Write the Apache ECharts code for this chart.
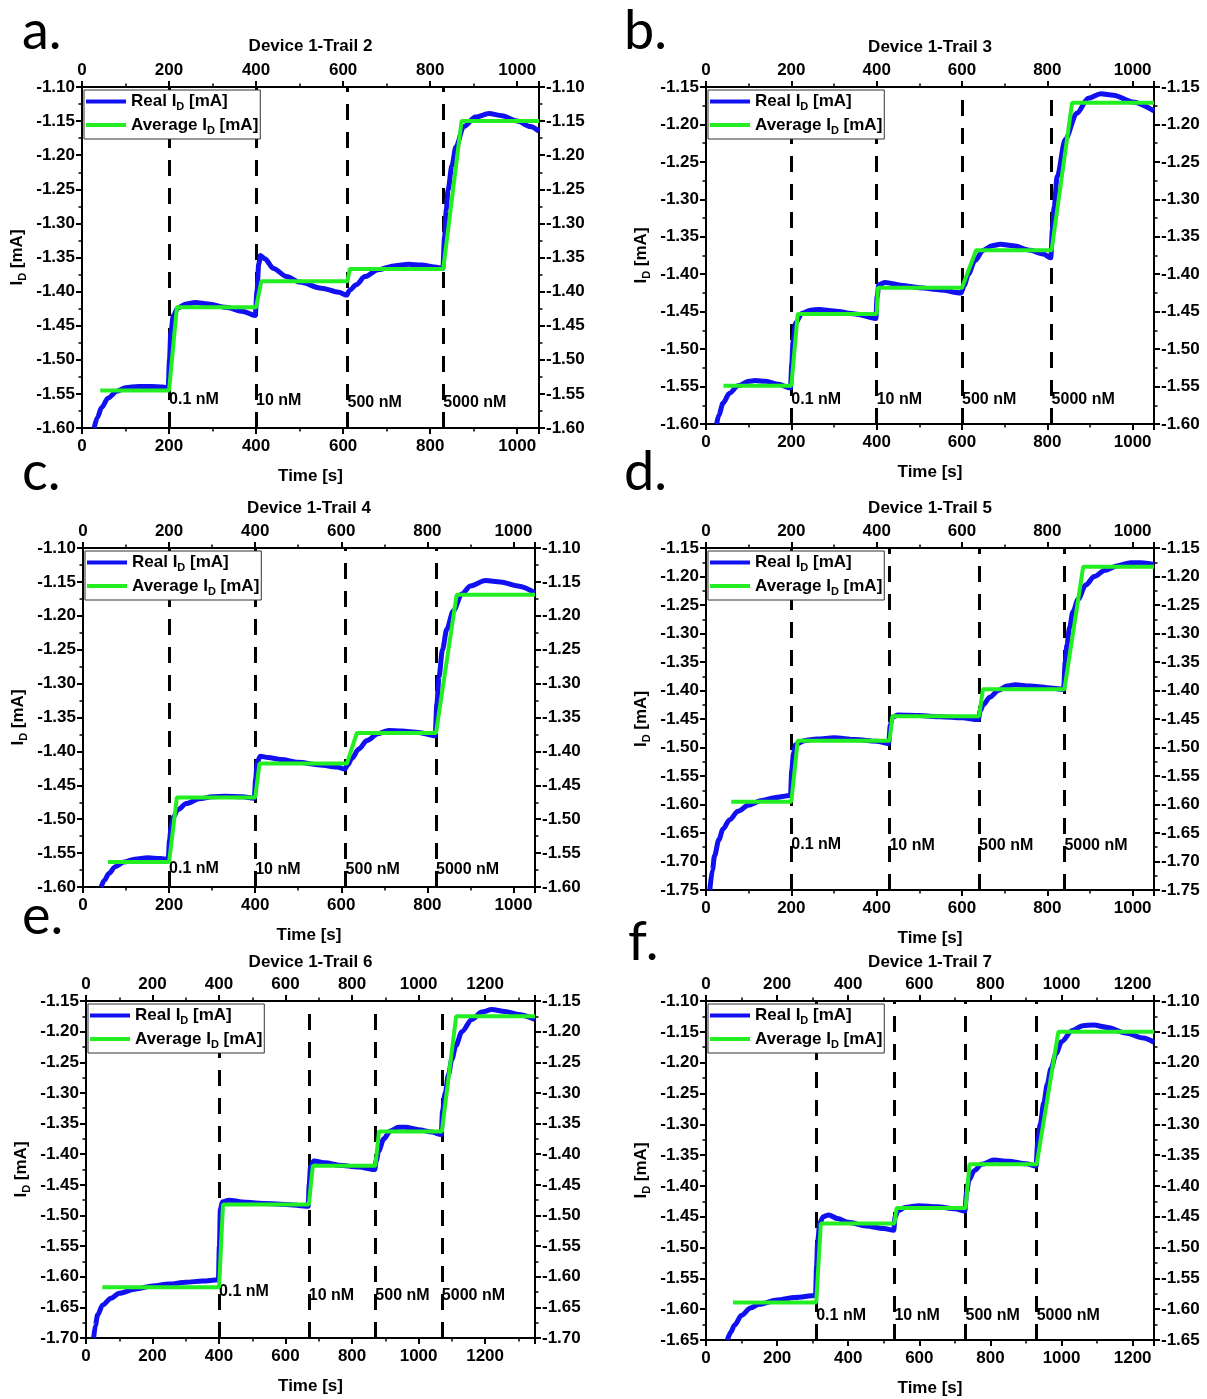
<!DOCTYPE html>
<html>
<head>
<meta charset="utf-8">
<script src="https://cdn.jsdelivr.net/npm/echarts@6/dist/echarts.min.js"></script>
<style>
html,body{margin:0;padding:0;background:#fff;}
#c{width:1207px;height:1399px;}
</style>
</head>
<body>
<div id="c"></div>
<script>
// ---------- DATA ----------
const concLabels = ['0.1 nM', '10 nM', '500 nM', '5000 nM'];
const panelTitles = ['Device 1-Trail 2', 'Device 1-Trail 3', 'Device 1-Trail 4', 'Device 1-Trail 5', 'Device 1-Trail 6', 'Device 1-Trail 7'];
const panelLetters = ['a.', 'b.', 'c.', 'd.', 'e.', 'f.'];

const injA = [200, 400, 610, 830];
const injB = [200, 400, 600, 810];
const injC = [200, 400, 610, 820];
const injD = [200, 430, 640, 840];
const injE = [400, 670, 870, 1070];
const injF = [310, 530, 730, 930];

const labYA = [-1.559, -1.560, -1.563, -1.563];
const labYB = [-1.567, -1.568, -1.568, -1.568];
const labYC = [-1.573, -1.574, -1.574, -1.574];
const labYD = [-1.670, -1.672, -1.672, -1.672];
const labYE = [-1.625, -1.630, -1.630, -1.630];
const labYF = [-1.610, -1.610, -1.610, -1.610];

const realA = [[28,-1.600],[35,-1.585],[45,-1.570],[60,-1.556],[80,-1.546],[100,-1.541],[130,-1.539],[160,-1.539],[185,-1.540],[198,-1.541],
[201,-1.50],[204,-1.46],[210,-1.435],[220,-1.424],[240,-1.418],[260,-1.416],[290,-1.418],[330,-1.423],[370,-1.429],[398,-1.435],
[402,-1.40],[406,-1.36],[410,-1.347],[420,-1.352],[440,-1.366],[470,-1.378],[500,-1.386],[550,-1.395],[590,-1.401],[608,-1.405],
[615,-1.398],[630,-1.390],[650,-1.378],[680,-1.368],[720,-1.362],[750,-1.360],[780,-1.361],[810,-1.364],[829,-1.366],
[833,-1.32],[837,-1.28],[841,-1.251],[850,-1.215],[859,-1.188],[877,-1.158],[904,-1.144],[935,-1.139],[965,-1.142],[1000,-1.150],[1030,-1.158],[1050,-1.165]];
const avgA = [[42,-1.545],[200,-1.545],[218,-1.423],[400,-1.423],[412,-1.385],[610,-1.385],[615,-1.367],[830,-1.367],[872,-1.150],[1050,-1.150]];

const realB = [[25,-1.600],[30,-1.588],[40,-1.572],[55,-1.559],[75,-1.549],[100,-1.543],[115,-1.542],[140,-1.543],[170,-1.547],[198,-1.552],
[201,-1.52],[204,-1.49],[210,-1.465],[225,-1.452],[245,-1.448],[265,-1.447],[300,-1.449],[350,-1.453],[398,-1.459],
[401,-1.43],[405,-1.414],[420,-1.411],[460,-1.415],[500,-1.418],[550,-1.421],[598,-1.425],
[605,-1.415],[615,-1.400],[630,-1.382],[650,-1.368],[670,-1.362],[690,-1.360],[720,-1.362],[760,-1.368],[790,-1.373],[808,-1.378],
[812,-1.34],[816,-1.31],[823,-1.27],[842,-1.22],[869,-1.185],[896,-1.165],[925,-1.159],[955,-1.161],[1000,-1.170],[1050,-1.182]];
const avgB = [[41,-1.549],[200,-1.549],[215,-1.453],[400,-1.453],[403,-1.418],[600,-1.418],[633,-1.368],[810,-1.368],[858,-1.171],[1050,-1.171]];

const realC = [[42,-1.600],[50,-1.590],[60,-1.580],[75,-1.570],[95,-1.563],[120,-1.559],[150,-1.557],[180,-1.558],[198,-1.559],
[201,-1.53],[205,-1.51],[210,-1.497],[220,-1.486],[240,-1.477],[270,-1.470],[300,-1.467],[330,-1.466],[370,-1.467],[398,-1.469],
[401,-1.44],[405,-1.415],[412,-1.407],[430,-1.409],[460,-1.412],[500,-1.416],[550,-1.420],[590,-1.423],[608,-1.426],
[615,-1.420],[625,-1.410],[640,-1.397],[660,-1.384],[685,-1.374],[710,-1.369],[740,-1.370],[780,-1.372],[818,-1.377],
[822,-1.33],[827,-1.29],[835,-1.25],[845,-1.22],[860,-1.193],[880,-1.168],[900,-1.156],[935,-1.148],[970,-1.150],[1010,-1.156],[1050,-1.166]];
const avgC = [[58,-1.563],[200,-1.563],[218,-1.468],[400,-1.468],[410,-1.418],[613,-1.418],[636,-1.373],[820,-1.373],[868,-1.169],[1050,-1.169]];

const realD = [[9,-1.750],[15,-1.715],[20,-1.690],[30,-1.662],[40,-1.643],[55,-1.627],[75,-1.612],[100,-1.601],[130,-1.593],[160,-1.588],[198,-1.584],
[201,-1.54],[205,-1.51],[210,-1.495],[230,-1.488],[260,-1.485],[300,-1.483],[350,-1.486],[400,-1.489],[428,-1.493],
[432,-1.46],[437,-1.447],[450,-1.443],[500,-1.444],[550,-1.446],[600,-1.448],[638,-1.451],
[643,-1.435],[650,-1.425],[665,-1.412],[685,-1.400],[705,-1.392],[725,-1.390],[760,-1.392],[800,-1.395],[838,-1.398],
[842,-1.35],[846,-1.32],[852,-1.29],[860,-1.262],[872,-1.240],[890,-1.215],[910,-1.200],[935,-1.189],[965,-1.181],[995,-1.176],[1020,-1.176],[1050,-1.179]];
const avgD = [[59,-1.595],[200,-1.595],[215,-1.488],[430,-1.488],[437,-1.445],[640,-1.445],[649,-1.398],[840,-1.398],[884,-1.183],[1050,-1.183]];

const realE = [[23,-1.700],[28,-1.680],[35,-1.662],[50,-1.646],[75,-1.635],[100,-1.627],[150,-1.620],[200,-1.615],[250,-1.612],[300,-1.609],[350,-1.607],[398,-1.605],
[401,-1.55],[404,-1.49],[410,-1.478],[430,-1.475],[470,-1.478],[520,-1.480],[600,-1.482],[668,-1.485],
[671,-1.45],[675,-1.42],[685,-1.411],[720,-1.414],[760,-1.418],[820,-1.421],[868,-1.425],
[873,-1.41],[880,-1.395],[895,-1.375],[915,-1.362],[940,-1.356],[960,-1.356],[1000,-1.360],[1040,-1.364],[1068,-1.368],
[1072,-1.33],[1080,-1.30],[1090,-1.27],[1100,-1.245],[1112,-1.223],[1130,-1.200],[1160,-1.180],[1190,-1.168],[1220,-1.164],[1260,-1.167],[1300,-1.172],[1350,-1.180]];
const avgE = [[49,-1.617],[400,-1.617],[412,-1.482],[670,-1.482],[682,-1.419],[870,-1.419],[881,-1.363],[1070,-1.363],[1113,-1.175],[1350,-1.175]];

const realF = [[60,-1.650],[70,-1.637],[80,-1.626],[100,-1.610],[125,-1.598],[150,-1.592],[200,-1.585],[250,-1.581],[308,-1.578],
[311,-1.53],[314,-1.49],[320,-1.460],[330,-1.450],[345,-1.447],[370,-1.453],[400,-1.459],[450,-1.465],[500,-1.469],[528,-1.472],
[532,-1.45],[540,-1.440],[560,-1.435],[600,-1.432],[650,-1.434],[700,-1.437],[728,-1.441],
[733,-1.41],[740,-1.390],[755,-1.375],[775,-1.365],[810,-1.358],[850,-1.360],[900,-1.364],[928,-1.368],
[933,-1.33],[940,-1.30],[950,-1.265],[960,-1.235],[970,-1.210],[985,-1.185],[1000,-1.166],[1030,-1.148],[1060,-1.140],[1090,-1.139],[1130,-1.143],[1180,-1.152],[1230,-1.160],[1260,-1.167]];
const avgF = [[76,-1.589],[310,-1.589],[323,-1.461],[530,-1.461],[536,-1.436],[730,-1.436],[741,-1.365],[930,-1.365],[991,-1.150],[1260,-1.150]];

const xMaxes = [1050, 1050, 1050, 1050, 1350, 1260];
const yMins = [-1.60, -1.60, -1.60, -1.75, -1.70, -1.65];
const yMaxs = [-1.10, -1.15, -1.10, -1.15, -1.15, -1.10];

// ---------- LAYOUT / STYLE ----------
const FONT = '"Liberation Sans", Arial, sans-serif';
const BLUE = '#1010F0';
const GREEN = '#22EE22';
const layouts = [
  {left: 82, top: 87, width: 457, height: 341, titleTop: 38, lx: 22, ly: 5},
  {left: 706, top: 87, width: 448, height: 337, titleTop: 39, lx: 624, ly: 5},
  {left: 83, top: 548, width: 452, height: 339, titleTop: 500, lx: 22, ly: 446},
  {left: 706, top: 548, width: 448, height: 342, titleTop: 500, lx: 624, ly: 446},
  {left: 86, top: 1001, width: 449, height: 337, titleTop: 954, lx: 22, ly: 890},
  {left: 706, top: 1001, width: 448, height: 339, titleTop: 954, lx: 628, ly: 916}
];
const reals = [realA, realB, realC, realD, realE, realF];
const avgs = [avgA, avgB, avgC, avgD, avgE, avgF];
const injs = [injA, injB, injC, injD, injE, injF];
const labYs = [labYA, labYB, labYC, labYD, labYE, labYF];

const txt = {fontFamily: FONT, fontWeight: 'bold', color: '#000'};
const richSub = {
  t: Object.assign({fontSize: 17, lineHeight: 22}, txt),
  s: Object.assign({fontSize: 11, lineHeight: 12, verticalAlign: 'bottom'}, txt)
};

const grids = [], xAxes = [], yAxes = [], series = [], legends = [], titles = [], graphics = [];

function axisCommon() {
  return {
    axisLine: {show: true, onZero: false, lineStyle: {color: '#000', width: 2}},
    axisTick: {show: true, length: 6, lineStyle: {color: '#000', width: 2}},
    minorTick: {show: true, splitNumber: 2, length: 3.5, lineStyle: {color: '#000', width: 1.5}},
    splitLine: {show: false},
    minorSplitLine: {show: false}
  };
}

layouts.forEach((g, i) => {
  grids.push({left: g.left, top: g.top, width: g.width, height: g.height, containLabel: false, outerBoundsMode: 'none'});
  ['bottom', 'top'].forEach(pos => {
    xAxes.push(Object.assign(axisCommon(), {
      type: 'value', gridIndex: i, position: pos, min: 0, max: xMaxes[i], interval: 200,
      axisLabel: Object.assign({fontSize: 17, margin: pos === 'bottom' ? 10 : 8, showMaxLabel: false, formatter: v => String(Math.round(v))}, txt),
      name: pos === 'bottom' ? 'Time [s]' : '',
      nameLocation: 'middle', nameGap: 40,
      nameTextStyle: Object.assign({fontSize: 17}, txt)
    }));
  });
  ['left', 'right'].forEach(pos => {
    yAxes.push(Object.assign(axisCommon(), {
      type: 'value', gridIndex: i, position: pos, min: yMins[i], max: yMaxs[i], interval: 0.05,
      axisLabel: Object.assign({fontSize: 17, margin: 7, formatter: v => v.toFixed(2)}, txt),
      name: pos === 'left' ? '{t|I}{s|D}{t| [mA]}' : '',
      nameLocation: 'middle', nameRotate: 90, nameGap: 54,
      nameTextStyle: {rich: richSub}
    }));
  });
  const xi = 2 * i, yi = 2 * i;
  series.push({
    type: 'scatter', name: 'marks' + i, xAxisIndex: xi, yAxisIndex: yi, z: 2,
    data: injs[i].map((t, k) => [t, labYs[i][k], concLabels[k]]),
    symbolSize: 0,
    itemStyle: {opacity: 1},
    label: Object.assign({show: true, position: 'right', distance: 0, fontSize: 16, opacity: 1, formatter: p => p.data[2]}, txt),
    markLine: {
      z: 1,
      silent: true, symbol: ['none', 'none'], label: {show: false},
      lineStyle: {type: [16, 12], color: '#000', width: 3},
      data: injs[i].map(t => ({xAxis: t}))
    }
  });
  series.push({
    type: 'line', name: 'Real', xAxisIndex: xi, yAxisIndex: yi, z: 3,
    data: reals[i], showSymbol: false, symbol: 'none', smooth: 0.3, smoothMonotone: 'x',
    lineStyle: {color: BLUE, width: 5}, itemStyle: {color: BLUE}
  });
  series.push({
    type: 'line', name: 'Average', xAxisIndex: xi, yAxisIndex: yi, z: 4,
    data: avgs[i], showSymbol: false, symbol: 'none',
    lineStyle: {color: GREEN, width: 4}, itemStyle: {color: GREEN}
  });
  legends.push({
    z: 10,
    left: g.left + 2, top: g.top + 3, orient: 'vertical',
    data: ['Real', 'Average'], icon: 'rect', itemWidth: 40, itemHeight: 4, itemGap: 4,
    padding: [3, 2, 3, 2], borderColor: '#333', borderWidth: 1, backgroundColor: '#fff',
    selectedMode: false,
    formatter: n => '{t|' + n + ' I}{s|D}{t| [mA]}',
    textStyle: {rich: richSub}
  });
  titles.push({
    text: panelTitles[i], left: g.left + g.width / 2, textAlign: 'center', top: g.titleTop, padding: 0,
    textStyle: Object.assign({fontSize: 17}, txt)
  });
  graphics.push({
    type: 'text', left: g.lx, top: g.ly,
    style: {text: panelLetters[i], font: 'normal 54px Lato, "Open Sans", sans-serif', fill: '#000'}
  });
});

const chart = echarts.init(document.getElementById('c'), null, {renderer: 'canvas'});
chart.setOption({
  animation: false,
  backgroundColor: '#fff',
  title: titles,
  grid: grids,
  xAxis: xAxes,
  yAxis: yAxes,
  legend: legends,
  series: series,
  graphic: graphics
});
</script>
</body>
</html>
